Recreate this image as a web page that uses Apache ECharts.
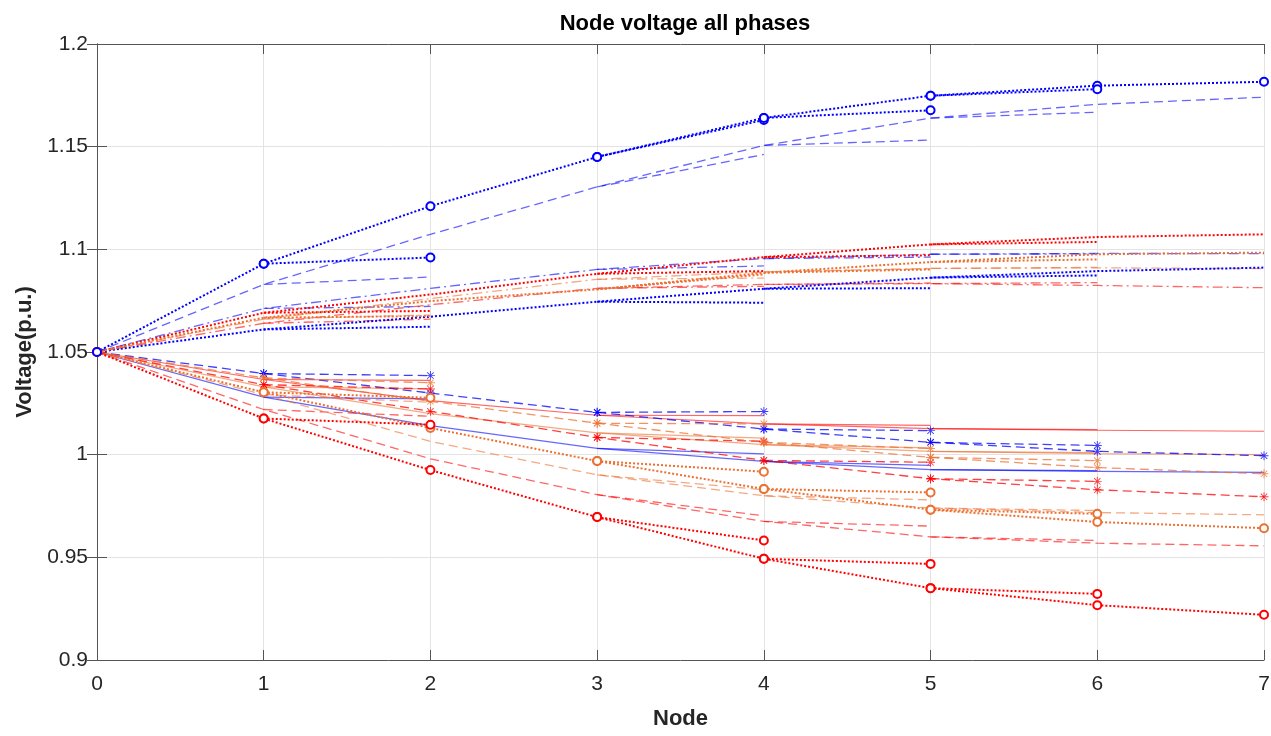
<!DOCTYPE html>
<html>
<head>
<meta charset="utf-8">
<title>Node voltage all phases</title>
<script src="https://cdn.jsdelivr.net/npm/echarts@6/dist/echarts.min.js"></script>
<style>
  html, body { margin: 0; padding: 0; background: #fff; }
  #chart { width: 1271px; height: 736px; }
</style>
</head>
<body>
<div id="chart"></div>
<script>
// x positions (node depth) and the nodes where a one-node side branch starts
const nodes = [0, 1, 2, 3, 4, 5, 6, 7]
const branchFrom = [1, 3, 4, 5]
const yTicks = [0.9, 0.95, 1, 1.05, 1.1, 1.15, 1.2]

// dotted line, circle markers
const dotCircleBlueMain = [1.05, 1.093, 1.121, 1.145, 1.164, 1.1748, 1.1797, 1.1816]
const dotCircleBlueLeaf = [1.096, 1.163, 1.1677, 1.178]
const dotCircleRedMain = [1.05, 1.0176, 0.9925, 0.9696, 0.9493, 0.935, 0.9267, 0.922]
const dotCircleRedLeaf = [1.0146, 0.9582, 0.9468, 0.9322]
const dotCircleOrangeMain = [1.05, 1.0304, 1.013, 0.9969, 0.9833, 0.9732, 0.9672, 0.9642]
const dotCircleOrangeLeaf = [1.0277, 0.9917, 0.9816, 0.9712]

// dashed line, no markers
const dashBlueMain = [1.05, 1.0829, 1.1073, 1.1304, 1.1506, 1.1639, 1.1706, 1.1741]
const dashBlueLeaf = [1.0865, 1.1462, 1.1532, 1.1668]
const dashRedMain = [1.05, 1.022, 0.998, 0.9805, 0.9675, 0.96, 0.9569, 0.9556]
const dashRedLeaf = [1.0187, 0.9702, 0.9652, 0.9582]
const dashOrangeMain = [1.05, 1.0293, 1.0065, 0.9902, 0.98, 0.974, 0.9718, 0.9707]
const dashOrangeLeaf = [1.0255, 0.9829, 0.978, 0.9728]

// dashed line, asterisk markers
const dashStarBlueMain = [1.05, 1.0395, 1.03, 1.0206, 1.0125, 1.006, 1.0016, 0.9995]
const dashStarBlueLeaf = [1.0385, 1.021, 1.0117, 1.0045]
const dashStarRedMain = [1.05, 1.0341, 1.0211, 1.0084, 0.9972, 0.9883, 0.9829, 0.9795]
const dashStarRedLeaf = [1.032, 1.0065, 0.9963, 0.987]
const dashStarOrangeMain = [1.05, 1.0374, 1.026, 1.0153, 1.006, 0.9987, 0.9937, 0.9907]
const dashStarOrangeLeaf = [1.035, 1.015, 1.003, 0.9971]

// solid line
const solidBlueMain = [1.05, 1.028, 1.0141, 1.0031, 0.9967, 0.9927, 0.9919, 0.9914]
const solidBlueLeaf = [1.0272, 1.0004, 0.9948, 0.9922]
const solidRedMain = [1.05, 1.0366, 1.0263, 1.0192, 1.015, 1.0127, 1.0119, 1.0114]
const solidRedLeaf = [1.0362, 1.019, 1.0143, 1.0122]
const solidOrangeMain = [1.05, 1.033, 1.02, 1.0106, 1.0049, 1.0016, 1.0005, 1.0]
const solidOrangeLeaf = [1.032, 1.0081, 1.0033, 1.001]

// dotted line, no markers
const dotBlueMain = [1.05, 1.061, 1.0672, 1.0745, 1.0808, 1.0862, 1.0894, 1.0911]
const dotBlueLeaf = [1.0623, 1.074, 1.0811, 1.0873]
const dotRedMain = [1.05, 1.0691, 1.078, 1.0881, 1.0962, 1.1024, 1.106, 1.1073]
const dotRedLeaf = [1.07, 1.0894, 1.0971, 1.1036]
const dotOrangeMain = [1.05, 1.0667, 1.0748, 1.0805, 1.0886, 1.0938, 1.0976, 1.0984]
const dotOrangeLeaf = [1.0675, 1.0878, 1.0902, 1.0951]

// dash-dot line
const dashDotBlueMain = [1.05, 1.0712, 1.081, 1.0902, 1.0955, 1.0976, 1.098, 1.0979]
const dashDotBlueLeaf = [1.0722, 1.0919, 1.0962, 1.0978]
const dashDotRedMain = [1.05, 1.064, 1.073, 1.081, 1.0829, 1.0833, 1.0824, 1.0813]
const dashDotRedLeaf = [1.066, 1.082, 1.0836, 1.0838]
const dashDotOrangeMain = [1.05, 1.066, 1.076, 1.0854, 1.089, 1.0907, 1.091, 1.0906]
const dashDotOrangeLeaf = [1.068, 1.086, 1.0905, 1.0912]

const BLUE = '#0000ff'
const RED = '#ff0000'
const ORANGE = '#ec7031'

// asterisk marker (4 thin bars)
const STAR = 'path://M9,0L11,0L11,20L9,20Z M0,9L20,9L20,11L0,11Z M2.2,3.6L3.6,2.2L17.8,16.4L16.4,17.8Z M16.4,2.2L17.8,3.6L3.6,17.8L2.2,16.4Z'

const styles = {
  dotCircle: { type: [2, 2], width: 2, opacity: 1, symbol: 'emptyCircle', size: 8 },
  dash: { type: [9, 5], width: 1.3, opacity: 0.6 },
  dashStar: { type: [9, 5], width: 1.3, opacity: 0.75, symbol: STAR, size: 9 },
  solid: { type: 'solid', width: 1.2, opacity: 0.6 },
  dot: { type: [2, 2], width: 2, opacity: 1 },
  dashDot: { type: [10, 4, 2, 4], width: 1.3, opacity: 0.6 }
}

const series = []

function line(data, color, st) {
  return {
    type: 'line',
    data: data,
    silent: true,
    symbol: st.symbol || 'none',
    symbolSize: st.size || 0,
    showSymbol: !!st.symbol,
    lineStyle: { color: color, width: st.width, type: st.type, opacity: st.opacity },
    itemStyle: {
      color: color,
      borderColor: color,
      borderWidth: st.symbol === 'emptyCircle' ? 2 : 0,
      opacity: st.symbol === STAR ? st.opacity : 1
    }
  }
}

// main path plus one short segment per side branch
function addTree(main, leaves, color, st) {
  series.push(line(main.map((v, i) => [nodes[i], v]), color, st))
  branchFrom.forEach((n, k) => {
    series.push(line([[n, main[n]], [n + 1, leaves[k]]], color, st))
  })
}

addTree(solidBlueMain, solidBlueLeaf, BLUE, styles.solid)
addTree(solidRedMain, solidRedLeaf, RED, styles.solid)
addTree(solidOrangeMain, solidOrangeLeaf, ORANGE, styles.solid)
addTree(dashDotBlueMain, dashDotBlueLeaf, BLUE, styles.dashDot)
addTree(dashDotRedMain, dashDotRedLeaf, RED, styles.dashDot)
addTree(dashDotOrangeMain, dashDotOrangeLeaf, ORANGE, styles.dashDot)
addTree(dashBlueMain, dashBlueLeaf, BLUE, styles.dash)
addTree(dashRedMain, dashRedLeaf, RED, styles.dash)
addTree(dashOrangeMain, dashOrangeLeaf, ORANGE, styles.dash)
addTree(dotBlueMain, dotBlueLeaf, BLUE, styles.dot)
addTree(dotRedMain, dotRedLeaf, RED, styles.dot)
addTree(dotOrangeMain, dotOrangeLeaf, ORANGE, styles.dot)
addTree(dashStarBlueMain, dashStarBlueLeaf, BLUE, styles.dashStar)
addTree(dashStarRedMain, dashStarRedLeaf, RED, styles.dashStar)
addTree(dashStarOrangeMain, dashStarOrangeLeaf, ORANGE, styles.dashStar)
addTree(dotCircleOrangeMain, dotCircleOrangeLeaf, ORANGE, styles.dotCircle)
addTree(dotCircleRedMain, dotCircleRedLeaf, RED, styles.dotCircle)
addTree(dotCircleBlueMain, dotCircleBlueLeaf, BLUE, styles.dotCircle)

const FONT = 'Liberation Sans, Arial, Helvetica, sans-serif'
const axisLine = { show: true, lineStyle: { color: '#555', width: 1 } }
const tick = { show: true, inside: true, length: 10, lineStyle: { color: '#555' } }
const grid = { show: true, lineStyle: { color: '#e3e3e3', width: 1 } }

const chart = echarts.init(document.getElementById('chart'))
chart.setOption({
  animation: false,
  backgroundColor: '#fff',
  title: {
    text: 'Node voltage all phases',
    left: 680,
    top: 8,
    textAlign: 'center',
    textStyle: { fontFamily: FONT, fontSize: 22, fontWeight: 'bold', color: '#000' }
  },
  grid: { left: 97, top: 44, right: 7, bottom: 76, containLabel: false, outerBoundsMode: 'none' },
  xAxis: [{
    type: 'value',
    min: 0,
    max: 7,
    interval: 1,
    name: 'Node',
    nameLocation: 'middle',
    nameGap: 48,
    nameTextStyle: { fontFamily: FONT, fontSize: 22, fontWeight: 'bold', color: '#262626' },
    axisLine: axisLine,
    axisTick: tick,
    splitLine: grid,
    axisLabel: { fontFamily: FONT, fontSize: 21, color: '#262626', margin: 14 }
  }, {
    type: 'value',
    position: 'top',
    min: 0,
    max: 7,
    interval: 1,
    axisLine: axisLine,
    axisTick: tick,
    splitLine: { show: false },
    axisLabel: { show: false }
  }],
  yAxis: [{
    type: 'value',
    min: yTicks[0],
    max: yTicks[yTicks.length - 1],
    interval: 0.05,
    name: 'Voltage(p.u.)',
    nameLocation: 'middle',
    nameGap: 59,
    nameTextStyle: { fontFamily: FONT, fontSize: 22, fontWeight: 'bold', color: '#262626' },
    axisLine: axisLine,
    axisTick: tick,
    splitLine: grid,
    axisLabel: {
      fontFamily: FONT,
      fontSize: 21,
      color: '#262626',
      margin: 9,
      formatter: (v) => String(yTicks.find(t => Math.abs(t - v) < 1e-6) ?? v)
    }
  }, {
    type: 'value',
    position: 'right',
    min: yTicks[0],
    max: yTicks[yTicks.length - 1],
    interval: 0.05,
    axisLine: axisLine,
    axisTick: tick,
    splitLine: { show: false },
    axisLabel: { show: false }
  }],
  series: series
})
</script>
</body>
</html>
